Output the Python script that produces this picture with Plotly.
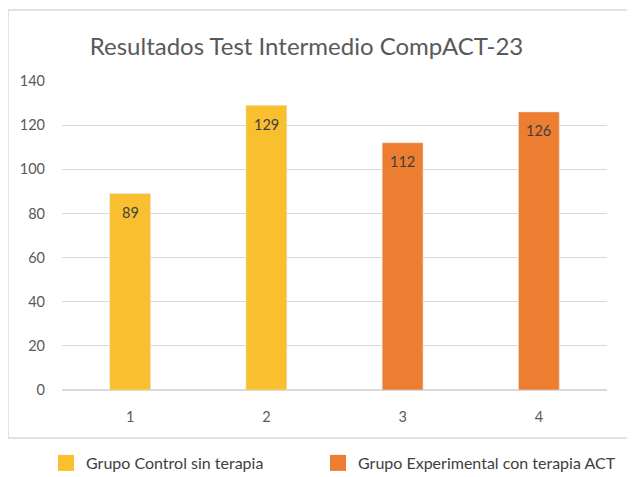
import plotly.graph_objects as go

categories = ["1", "2", "3", "4"]
control_values = [89, 129, None, None]
experimental_values = [None, None, 112, 126]
all_values = [89, 129, 112, 126]
series_names = ["Grupo Control sin terapia", "Grupo Experimental con terapia ACT"]
y_ticks = [0, 20, 40, 60, 80, 100, 120, 140]

YELLOW = "#F9BF2F"
ORANGE = "#ED7D31"
FONT = "Lato, 'Open Sans', sans-serif"

W, H = 627, 469  # page body has an 8px margin
PL, PR, PT, PB = 54, 599, 73, 382  # plot area in figure pixels
pw, ph = PR - PL, PB - PT

fig = go.Figure()
fig.add_trace(go.Bar(x=categories, y=control_values, marker_color=YELLOW,
                     showlegend=False, hoverinfo="skip"))
fig.add_trace(go.Bar(x=categories, y=experimental_values, marker_color=ORANGE,
                     showlegend=False, hoverinfo="skip"))
# legend entries with larger square swatches, one legend each
for name, col, lg in zip(series_names, [YELLOW, ORANGE], ["legend", "legend2"]):
    fig.add_trace(go.Scatter(x=[categories[0]], y=[None], mode="markers", name=name,
                             legend=lg,
                             marker=dict(symbol="square", size=20, color=col)))

for i, v in enumerate(all_values):
    fig.add_annotation(x=i, y=v, text=str(v), showarrow=False, yshift=-19,
                       font=dict(family=FONT, size=14.5, color="#404040"))

fig.add_shape(type="rect", xref="paper", yref="paper",
              x0=(0 - PL) / pw, x1=(620 - PL) / pw,
              y0=(PB - 430) / ph, y1=(PB - 2) / ph,
              line=dict(color="#D9D9D9", width=1.5), layer="below")

legend_common = dict(orientation="h", xanchor="left", y=(PB - 455) / ph, yanchor="middle",
                     font=dict(family=FONT, size=16, color="#404040"),
                     bgcolor="rgba(0,0,0,0)")

fig.update_layout(
    width=W, height=H,
    margin=dict(l=PL, r=W - PR, t=PT, b=H - PB, autoexpand=False),
    paper_bgcolor="white", plot_bgcolor="white",
    barmode="overlay", bargap=0.7,
    title=dict(text="Resultados Test Intermedio CompACT-23", x=298.5 / W, xanchor="center",
               y=1 - 39 / H, yanchor="middle",
               font=dict(family=FONT, size=24, color="#595959")),
    font=dict(family=FONT, color="#595959"),
    xaxis=dict(type="category", showgrid=False, showline=False, zeroline=False, ticks="",
               ticklabelstandoff=16, tickfont=dict(size=14.5, color="#595959")),
    yaxis=dict(range=[0, 140], tickvals=y_ticks, showgrid=True, gridcolor="#D9D9D9",
               gridwidth=1, zeroline=True, zerolinecolor="#D9D9D9", showline=False,
               ticks="", ticklabelstandoff=16, tickfont=dict(size=14.5, color="#595959")),
    legend=dict(x=(38 - PL) / pw, **legend_common),
    legend2=dict(x=(310 - PL) / pw, **legend_common),
)

fig.write_html("out.html")
